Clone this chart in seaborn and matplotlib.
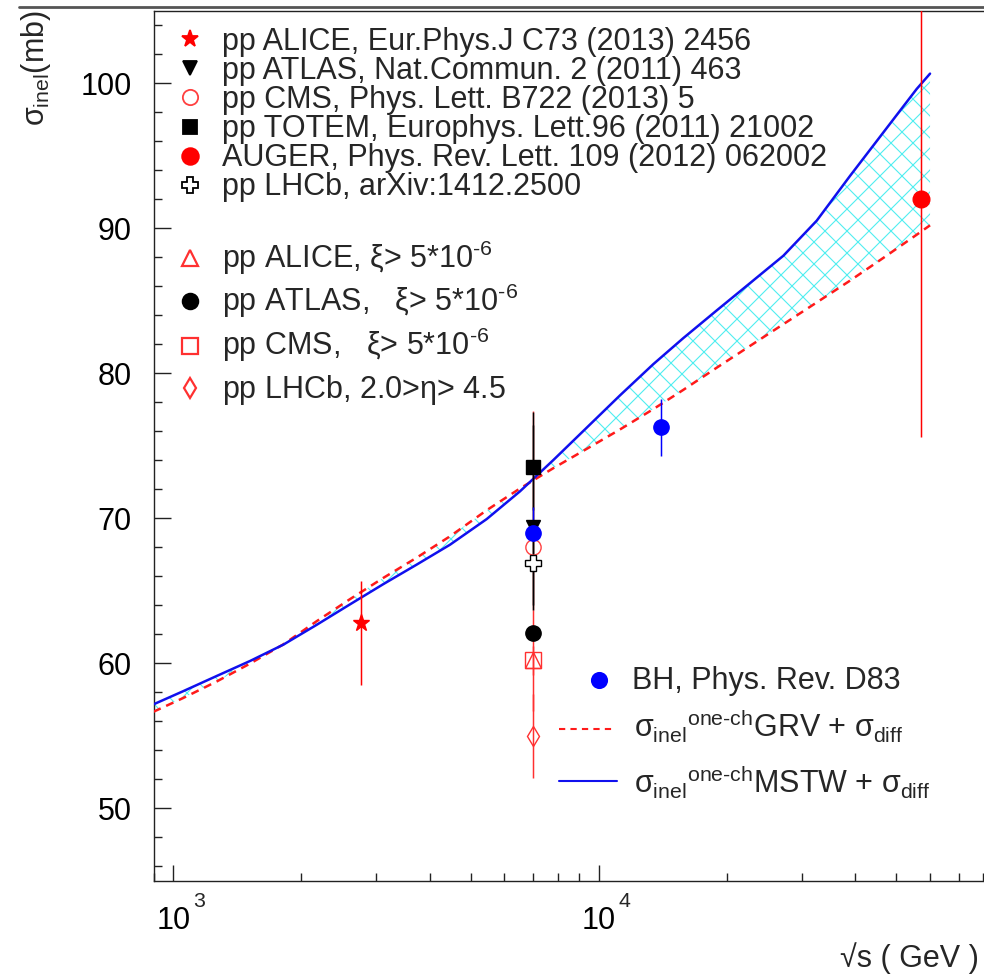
import numpy as np
import pandas as pd
import matplotlib
matplotlib.use("Agg")
import matplotlib.pyplot as plt
import matplotlib.transforms as mtransforms
from matplotlib.lines import Line2D
import seaborn as sns

# ---------------- data ----------------
curve_energy = [898, 1055, 1265, 1514, 1814, 2173, 2602, 3114, 3732, 4468,
                5450, 6524, 7816, 9361, 11210, 13420, 15790, 18920, 22650,
                27130, 32500, 38900, 46590, 55810, 60000]
mstw_sigma = [57.16, 58.07, 59.12, 60.15, 61.28, 62.65, 64.06, 65.45, 66.8, 68.17,
              69.94, 71.85, 74.01, 76.24, 78.47, 80.62, 82.42, 84.33, 86.21,
              88.1, 90.52, 93.6, 96.6, 99.6, 100.66]
grv_sigma = [56.65, 57.6, 58.74, 59.97, 61.3, 62.9, 64.42, 65.88, 67.28, 68.75,
             70.55, 72.05, 73.45, 74.78, 76.12, 77.52, 78.85, 80.38, 81.88,
             83.38, 84.88, 86.38, 87.95, 89.55, 90.2]

point_names = ["ALICE", "ATLAS", "CMS", "TOTEM", "AUGER", "LHCb",
               "ALICE xi", "ATLAS xi", "CMS xi", "LHCb eta", "BH 7", "BH 14"]
point_energy = [2760, 7000, 7000, 7000, 57000, 7000,
                7000, 7000, 7000, 7000, 7000, 14000]
point_sigma = [62.8, 69.4, 68.0, 73.5, 92.0, 66.9,
               60.2, 62.1, 60.2, 55.0, 69.0, 76.3]
point_err_lo = [4.3, 5.7, 4.3, 2.9, 16.4, 2.9,
                1.0, 0.5, 3.5, 2.9, 0.6, 2.0]
point_err_hi = [2.9, 7.9, 9.4, 2.9, 16.4, 2.9,
                1.0, 0.5, 3.5, 2.9, 1.8, 1.9]

legend_top = ["pp ALICE, Eur.Phys.J C73 (2013) 2456",
              "pp ATLAS, Nat.Commun. 2 (2011) 463",
              "pp CMS, Phys. Lett. B722 (2013) 5",
              "pp TOTEM, Europhys. Lett.96 (2011) 21002",
              "AUGER, Phys. Rev. Lett. 109 (2012) 062002",
              "pp LHCb, arXiv:1412.2500"]
legend_mid = [r"pp ALICE, $\xi$> 5*10$^{\text{-6}}$",
              r"pp ATLAS,   $\xi$> 5*10$^{\text{-6}}$",
              r"pp CMS,   $\xi$> 5*10$^{\text{-6}}$",
              r"pp LHCb, 2.0>$\eta$> 4.5"]
legend_bh = "BH, Phys. Rev. D83"
legend_grv = (r"$\sigma_{\mathrm{inel}}{}^{\text{one-ch}}$GRV + "
              r"$\sigma_{\mathrm{diff}}$")
legend_mstw = (r"$\sigma_{\mathrm{inel}}{}^{\text{one-ch}}$MSTW + "
               r"$\sigma_{\mathrm{diff}}$")

y_ticks = [50, 60, 70, 80, 90, 100]
x_ticks = [1000, 10000]
x_tick_base = ["10", "10"]
x_tick_exp = ["3", "4"]

# ---------------- style ----------------
DPI = 132
K = 100 / DPI          # sizes below are given as "points at 100 dpi"
PX = 72 / DPI          # one pixel in points

sns.set_theme(style="ticks")
plt.rcParams["font.family"] = ["Liberation Sans", "DejaVu Sans"]
plt.rcParams["mathtext.fontset"] = "custom"
plt.rcParams["mathtext.rm"] = "Liberation Sans"
plt.rcParams["mathtext.it"] = "Liberation Sans"
plt.rcParams["mathtext.bf"] = "Liberation Sans:bold"
plt.rcParams["mathtext.sf"] = "Liberation Sans"
plt.rcParams["hatch.linewidth"] = 0.8 * K

FS = 22 * K
W, H = 984, 974
fig = plt.figure(figsize=(W / DPI, H / DPI), dpi=DPI)
fig.patch.set_facecolor("white")


def fx(px):
    return px / W


def fy(py):
    return 1 - py / H


ax = fig.add_axes([fx(153.5), fy(880.7), fx(984) - fx(153.5), fy(10.7) - fy(880.7)])
ax.set_facecolor("white")
ax.set_xscale("log")
ax.set_xlim(898.4, 80340)
ax.set_ylim(45, 105)

# band
ax.fill_between(curve_energy, grv_sigma, mstw_sigma, facecolor="none",
                edgecolor="#50eef0", hatch="xx", linewidth=0, zorder=1)

df = pd.DataFrame({"E": curve_energy, "MSTW": mstw_sigma, "GRV": grv_sigma})
sns.lineplot(data=df, x="E", y="GRV", ax=ax, color="#ff1a1a", lw=1.8 * K,
             linestyle=(0, (3.2, 2.4)), zorder=3)
sns.lineplot(data=df, x="E", y="MSTW", ax=ax, color="#1010ee", lw=1.8 * K, zorder=4)

styles = {
    "ALICE": dict(marker="*", color="#ff0000", mfc="#ff0000", ms=12.5),
    "ATLAS": dict(marker="v", color="black", mfc="black", ms=10),
    "CMS": dict(marker="o", color="#ff4040", mfc="none", ms=11),
    "TOTEM": dict(marker="s", color="black", mfc="black", ms=10),
    "AUGER": dict(marker="o", color="#ff0000", mfc="#ff0000", ms=12),
    "LHCb": dict(marker="P", color="black", mfc="white", ms=11),
    "ALICE xi": dict(marker="^", color="#ff3030", mfc="none", ms=11),
    "ATLAS xi": dict(marker="o", color="black", mfc="black", ms=11),
    "CMS xi": dict(marker="s", color="#ff3030", mfc="none", ms=11),
    "LHCb eta": dict(marker="d", color="#ff3030", mfc="none", ms=10),
    "BH 7": dict(marker="o", color="#0000ff", mfc="#0000ff", ms=11),
    "BH 14": dict(marker="o", color="#0000ff", mfc="#0000ff", ms=11),
}
order = ["CMS", "ALICE xi", "CMS xi", "LHCb eta", "ALICE", "AUGER",
         "TOTEM", "ATLAS", "LHCb", "ATLAS xi", "BH 7", "BH 14"]
for z, name in enumerate(order):
    i = point_names.index(name)
    st = styles[name]
    eb = ax.errorbar([point_energy[i]], [point_sigma[i]],
                     yerr=[[point_err_lo[i]], [point_err_hi[i]]],
                     fmt="none", ecolor=st["color"], elinewidth=1.5 * PX, capsize=0,
                     zorder=5 + z * 0.01)
    for coll in eb[2]:
        coll.set_snap(True)
for z, name in enumerate(order):
    i = point_names.index(name)
    st = styles[name]
    ax.plot([point_energy[i]], [point_sigma[i]], linestyle="none",
            marker=st["marker"], ms=st["ms"] * K, mfc=st["mfc"], mec=st["color"],
            mew=1.0 * K, zorder=7 + z * 0.01)

# axes style
ax.set_xlabel("")
ax.set_ylabel("")
ax.spines["right"].set_visible(False)
for s in ["left", "bottom", "top"]:
    ax.spines[s].set_linewidth(1.0 * K)
    ax.spines[s].set_color("#222222")
ax.set_yticks(y_ticks)
ax.set_yticklabels([str(v) for v in y_ticks])
ax.set_yticks(np.arange(46, 105, 2), minor=True)
ax.set_xticks(x_ticks)
ax.set_xticklabels(x_tick_base)
minor_x = [m * 10 ** e for e in (2, 3, 4) for m in range(2, 10)]
ax.set_xticks([v for v in minor_x if 898.4 < v < 80340], minor=True)
ax.xaxis.set_minor_formatter(matplotlib.ticker.NullFormatter())
ax.tick_params(axis="both", which="both", direction="in", colors="#222222",
               labelcolor="black", labelsize=FS)
ax.tick_params(axis="y", which="major", length=12 * K, width=1.0 * K, pad=15.5 * K)
ax.tick_params(axis="y", which="minor", length=6 * K, width=1.0 * K)
ax.tick_params(axis="x", which="major", length=11.5 * K, width=1.0 * K, pad=18.5 * K)
ax.tick_params(axis="x", which="minor", length=6 * K, width=1.0 * K)
ax.tick_params(top=False, right=False, which="both")

# exponents of the x tick labels
xexp_trans = mtransforms.blended_transform_factory(ax.transData, fig.transFigure)
for xv, ex in zip(x_ticks, x_tick_exp):
    ax.text(xv, fy(907), ex, transform=xexp_trans +
            mtransforms.ScaledTranslation(19.5 / DPI, 0, fig.dpi_scale_trans),
            ha="left", va="baseline", fontsize=FS * 0.7, clip_on=False)

# frame line at top of canvas
fig.add_artist(Line2D([fx(19), 1], [fy(7.3), fy(7.3)], color="#555555", lw=2.0 * K))

# axis titles
fig.text(fx(36), fy(10), r"$\sigma_{\mathrm{inel}}$(mb)", rotation=90,
         ha="center", va="top", fontsize=FS)
fig.text(fx(979), fy(967), "\u221as ( GeV )", ha="right", va="baseline",
         fontsize=FS)

# legend (top-left)
top_rows = [39.3, 68.3, 97.3, 126.7, 155.5, 185]
top_style = ["ALICE", "ATLAS", "CMS", "TOTEM", "AUGER", "LHCb"]
for py, label, name in zip(top_rows, legend_top, top_style):
    st = styles[name]
    fig.add_artist(Line2D([fx(190)], [fy(py)], linestyle="none", marker=st["marker"],
                          ms=st["ms"] * K, mfc=st["mfc"], mec=st["color"], mew=1.3 * K))
    fig.text(fx(221.7), fy(py + 10.5), label, ha="left", va="baseline", fontsize=FS)

mid_rows = [258.3, 301, 345.5, 388.3]
mid_style = ["ALICE xi", "ATLAS xi", "CMS xi", "LHCb eta"]
for py, label, name in zip(mid_rows, legend_mid, mid_style):
    st = styles[name]
    fig.add_artist(Line2D([fx(190)], [fy(py)], linestyle="none", marker=st["marker"],
                          ms=st["ms"] * K, mfc=st["mfc"], mec=st["color"], mew=1.6 * K))
    fig.text(fx(221.7), fy(py + 10), label, ha="left", va="baseline", fontsize=FS)

# legend (bottom-right)
fig.add_artist(Line2D([fx(599)], [fy(679.7)], linestyle="none", marker="o", ms=11 * K,
                      mfc="#0000ff", mec="#0000ff"))
fig.text(fx(631.6), fy(689), legend_bh, ha="left", va="baseline", fontsize=FS)
fig.add_artist(Line2D([fx(558.5), fx(612.4)], [fy(729), fy(729)], color="#ff1a1a",
                      lw=1.5 * K, linestyle=(0, (3, 2.5))))
fig.text(fx(633.6), fy(737.6), legend_grv, ha="left", va="baseline", fontsize=FS)
fig.add_artist(Line2D([fx(558.5), fx(617.4)], [fy(781.4), fy(781.4)], color="#1010ee",
                      lw=1.5 * K))
fig.text(fx(633.6), fy(794), legend_mstw, ha="left", va="baseline", fontsize=FS)

fig.savefig("out.png", dpi=DPI, facecolor="white")
